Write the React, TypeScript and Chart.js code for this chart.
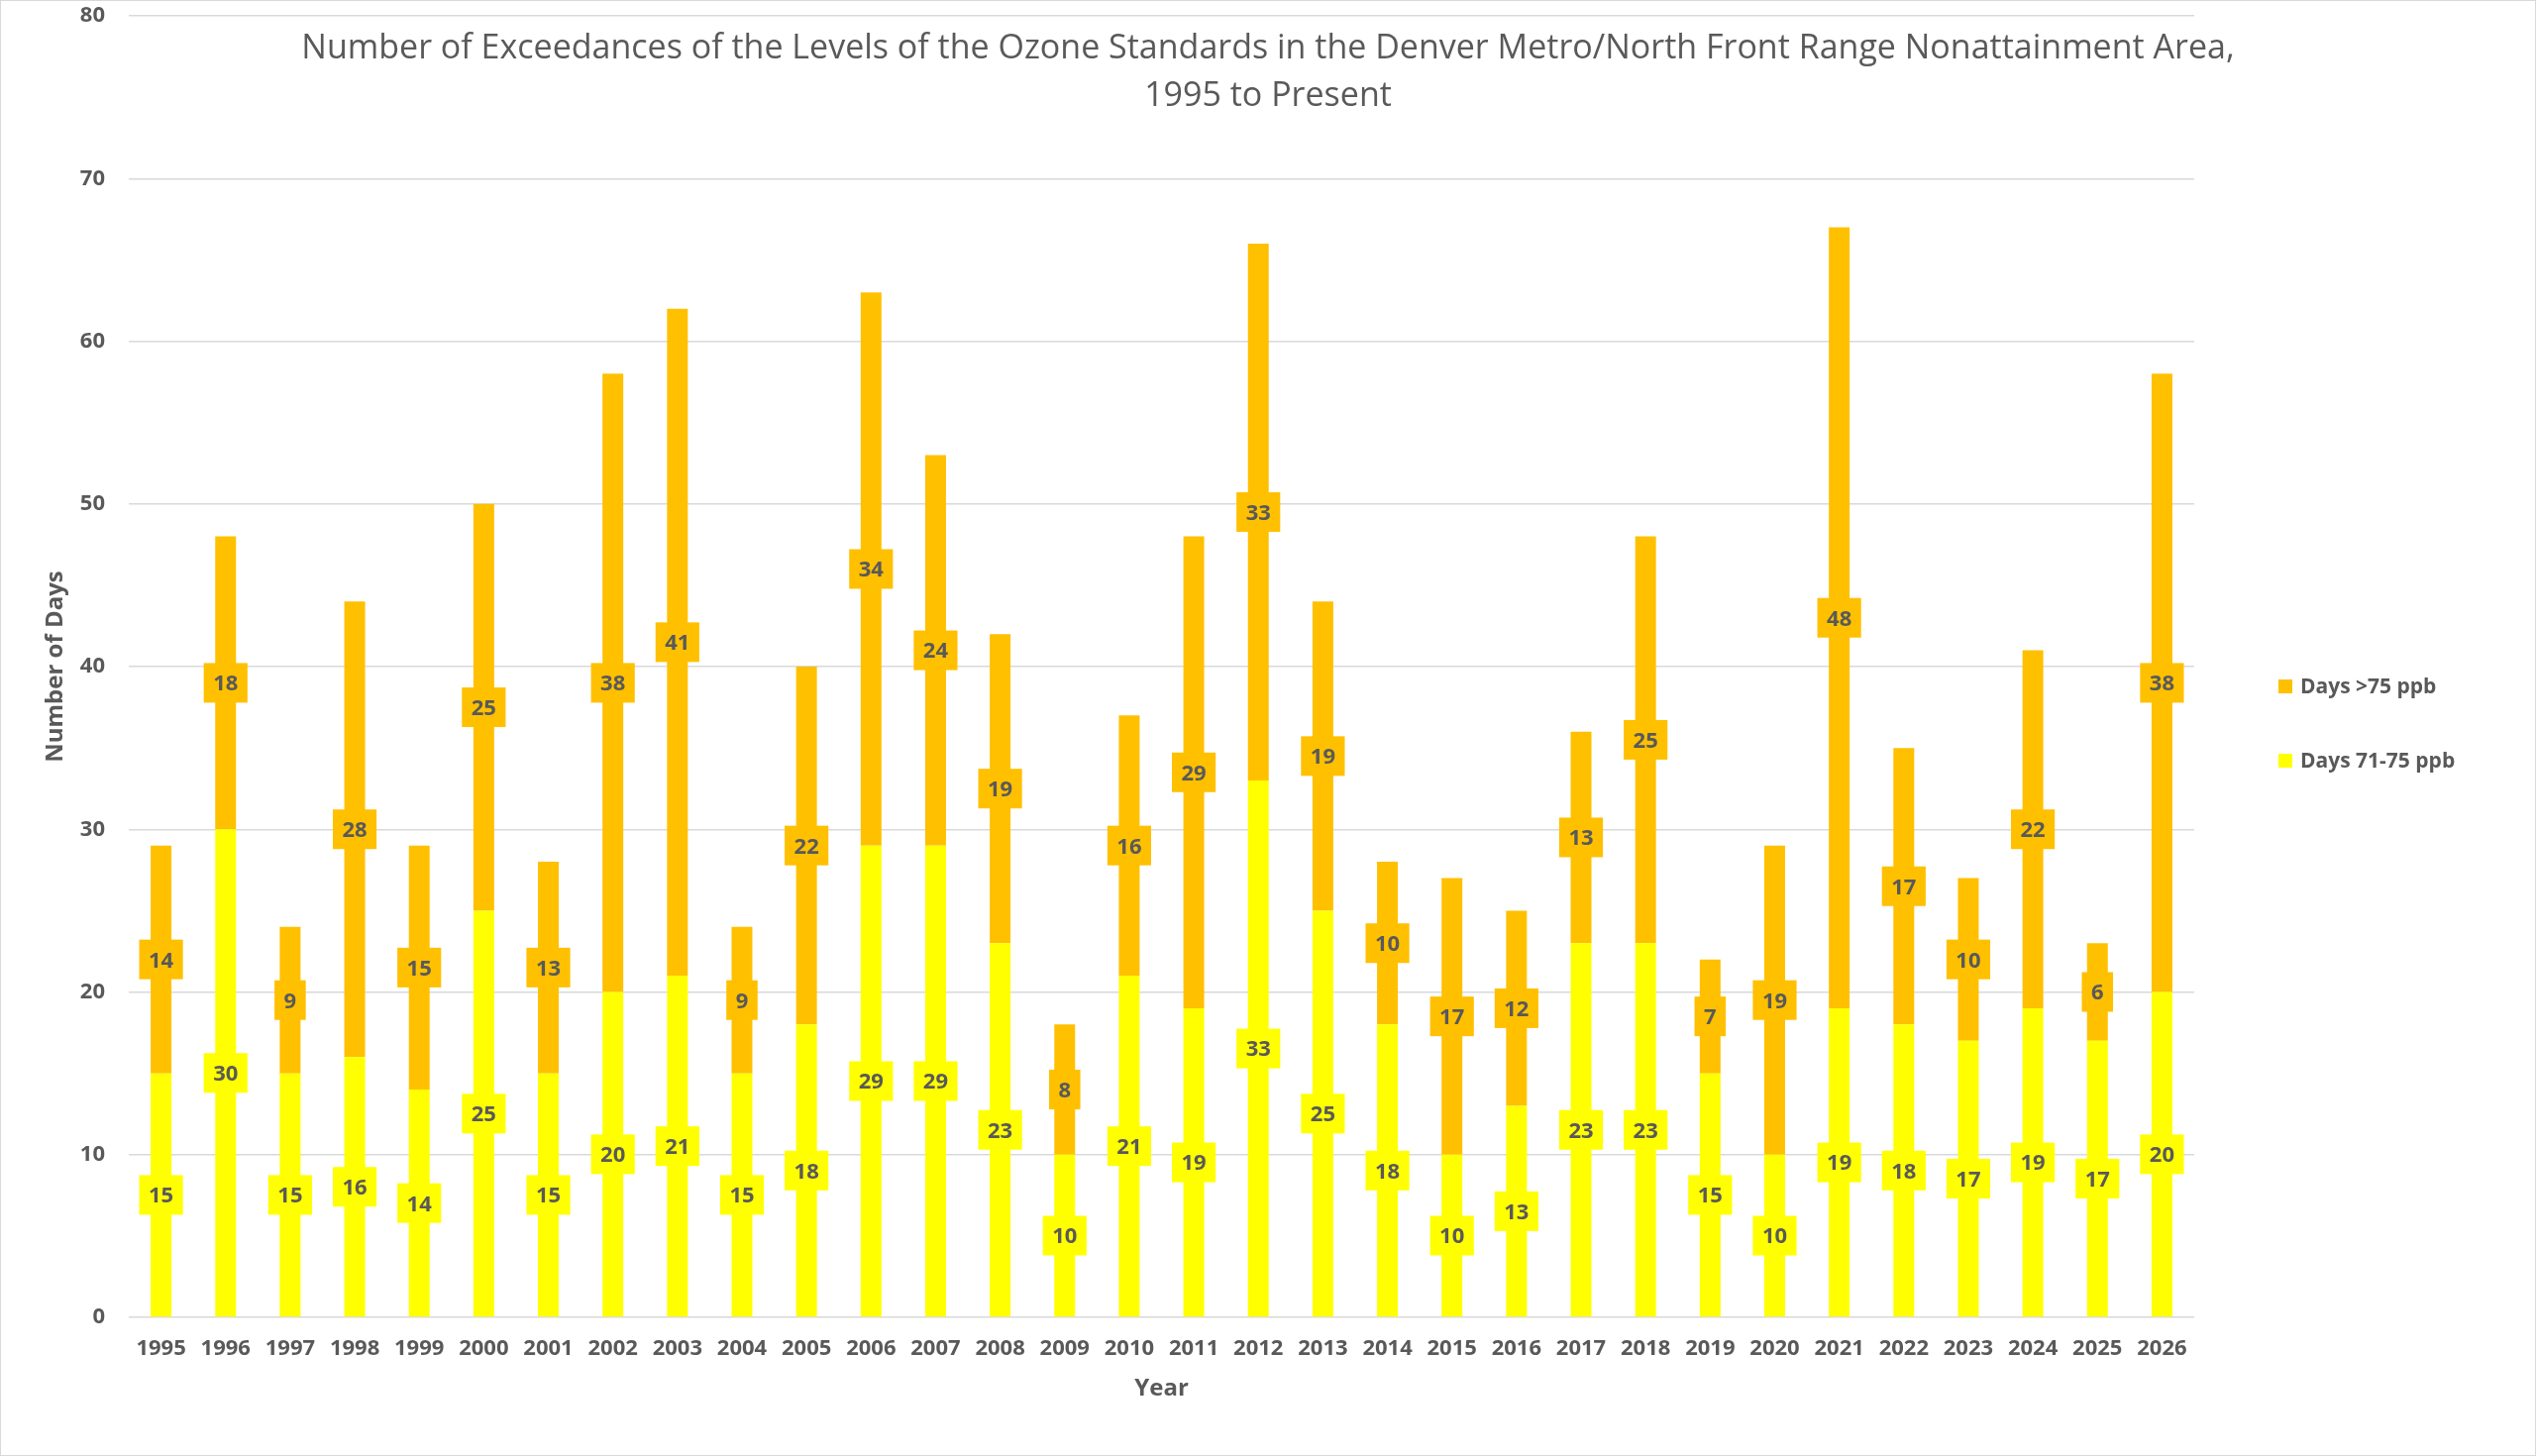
import { useEffect, useRef } from "react"
import { Chart, registerables } from "chart.js"

Chart.register(...registerables)

const years = [
  "1995", "1996", "1997", "1998", "1999", "2000", "2001", "2002", "2003", "2004", "2005",
  "2006", "2007", "2008", "2009", "2010", "2011", "2012", "2013", "2014", "2015", "2016",
  "2017", "2018", "2019", "2020", "2021", "2022", "2023", "2024", "2025", "2026",
]

const days71to75 = [
  15, 30, 15, 16, 14, 25, 15, 20, 21, 15, 18, 29, 29, 23, 10, 21,
  19, 33, 25, 18, 10, 13, 23, 23, 15, 10, 19, 18, 17, 19, 17, 20,
]

const daysOver75 = [
  14, 18, 9, 28, 15, 25, 13, 38, 41, 9, 22, 34, 24, 19, 8, 16,
  29, 33, 19, 10, 17, 12, 13, 25, 7, 19, 48, 17, 10, 22, 6, 38,
]

const titleLines = [
  "Number of Exceedances of the Levels of the Ozone Standards in the Denver Metro/North Front Range Nonattainment Area,",
  "1995 to Present",
]

const TEXT = "#595959"
const ORANGE = "#FFC000"
const YELLOW = "#FFFF00"
const FONT = "'Open Sans', sans-serif"

// boxed value labels in the middle of each segment, Excel style
const segmentLabels = {
  id: "segmentLabels",
  afterDatasetsDraw(chart: Chart) {
    const ctx = chart.ctx
    const size = 22
    ctx.save()
    ctx.font = `bold ${size}px ${FONT}`
    ctx.textAlign = "center"
    ctx.textBaseline = "alphabetic"
    chart.data.datasets.forEach((ds, i) => {
      const meta = chart.getDatasetMeta(i)
      meta.data.forEach((bar: any, j) => {
        const v = ds.data[j] as number
        const text = String(v)
        const cy = (bar.y + bar.base) / 2
        const w = ctx.measureText(text).width + 19
        const h = 40
        ctx.fillStyle = ds.backgroundColor as string
        ctx.fillRect(bar.x - w / 2, cy - h / 2, w, h)
        ctx.fillStyle = TEXT
        ctx.fillText(text, bar.x, cy + size * 0.357)
      })
    })
    ctx.restore()
  },
}

// overlay title and right-hand legend
const overlay = {
  id: "overlay",
  afterDraw(chart: Chart) {
    const ctx = chart.ctx
    ctx.save()
    ctx.fillStyle = TEXT
    ctx.textAlign = "center"
    ctx.textBaseline = "alphabetic"
    ctx.font = `${34}px ${FONT}`
    ctx.fillText(titleLines[0], chart.width / 2, 58)
    ctx.fillText(titleLines[1], chart.width / 2, 106)

    const items = [
      { label: "Days >75 ppb", color: ORANGE, y: 692 },
      { label: "Days 71-75 ppb", color: YELLOW, y: 767 },
    ]
    ctx.textAlign = "left"
    ctx.font = `bold 21px ${FONT}`
    items.forEach((it) => {
      ctx.fillStyle = it.color
      ctx.fillRect(2299, it.y - 7, 14, 14)
      ctx.fillStyle = TEXT
      ctx.fillText(it.label, 2321, it.y + 21 * 0.357)
    })
    ctx.restore()
  },
}

export default function App() {
  const chartRef = useRef<HTMLCanvasElement>(null)
  const chartInstance = useRef<Chart | null>(null)

  useEffect(() => {
    document.body.style.margin = "0"
    if (!chartRef.current) return
    if (chartInstance.current) chartInstance.current.destroy()

    const ctx = chartRef.current.getContext("2d")
    if (!ctx) return

    chartInstance.current = new Chart(ctx, {
      type: "bar",
      data: {
        labels: years,
        datasets: [
          {
            label: "Days 71-75 ppb",
            data: days71to75,
            backgroundColor: YELLOW,
            barPercentage: 0.322,
            categoryPercentage: 1,
          },
          {
            label: "Days >75 ppb",
            data: daysOver75,
            backgroundColor: ORANGE,
            barPercentage: 0.322,
            categoryPercentage: 1,
          },
        ],
      },
      options: {
        responsive: true,
        maintainAspectRatio: false,
        animation: false,
        layout: { padding: { top: 15, right: 344, left: 0, bottom: 0 } },
        plugins: {
          legend: { display: false },
          title: { display: false },
          tooltip: { enabled: false },
        },
        scales: {
          x: {
            stacked: true,
            grid: { display: false, drawTicks: false },
            border: { display: false },
            ticks: {
              color: TEXT,
              padding: 19,
              maxRotation: 0,
              autoSkip: false,
              font: { family: FONT, size: 22, weight: "bold" },
            },
            title: {
              display: true,
              text: "Year",
              color: TEXT,
              padding: { top: 0, bottom: 52 },
              font: { family: FONT, size: 24, weight: "bold" },
            },
            afterFit: (scale: any) => {
              scale.height = 139
            },
          },
          y: {
            stacked: true,
            min: 0,
            max: 80,
            grid: { color: "#d9d9d9", lineWidth: 1.5, drawTicks: false },
            border: { display: false },
            ticks: {
              stepSize: 10,
              color: TEXT,
              padding: 24,
              font: { family: FONT, size: 22, weight: "bold" },
            },
            title: {
              display: true,
              text: "Number of Days",
              color: TEXT,
              padding: { top: 41, bottom: 0 },
              font: { family: FONT, size: 24, weight: "bold" },
            },
            afterFit: (scale: any) => {
              scale.width = 129
              scale.paddingTop = 0
              scale.paddingBottom = 0
            },
          },
        },
      },
      plugins: [segmentLabels, overlay],
    })

    return () => {
      if (chartInstance.current) {
        chartInstance.current.destroy()
        chartInstance.current = null
      }
    }
  }, [])

  return (
    <div
      style={{
        width: 2560,
        height: 1470,
        boxSizing: "border-box",
        border: "1px solid #d9d9d9",
        background: "#fff",
      }}
    >
      <div style={{ position: "relative", width: "100%", height: "100%" }}>
        <canvas ref={chartRef} />
      </div>
    </div>
  )
}
